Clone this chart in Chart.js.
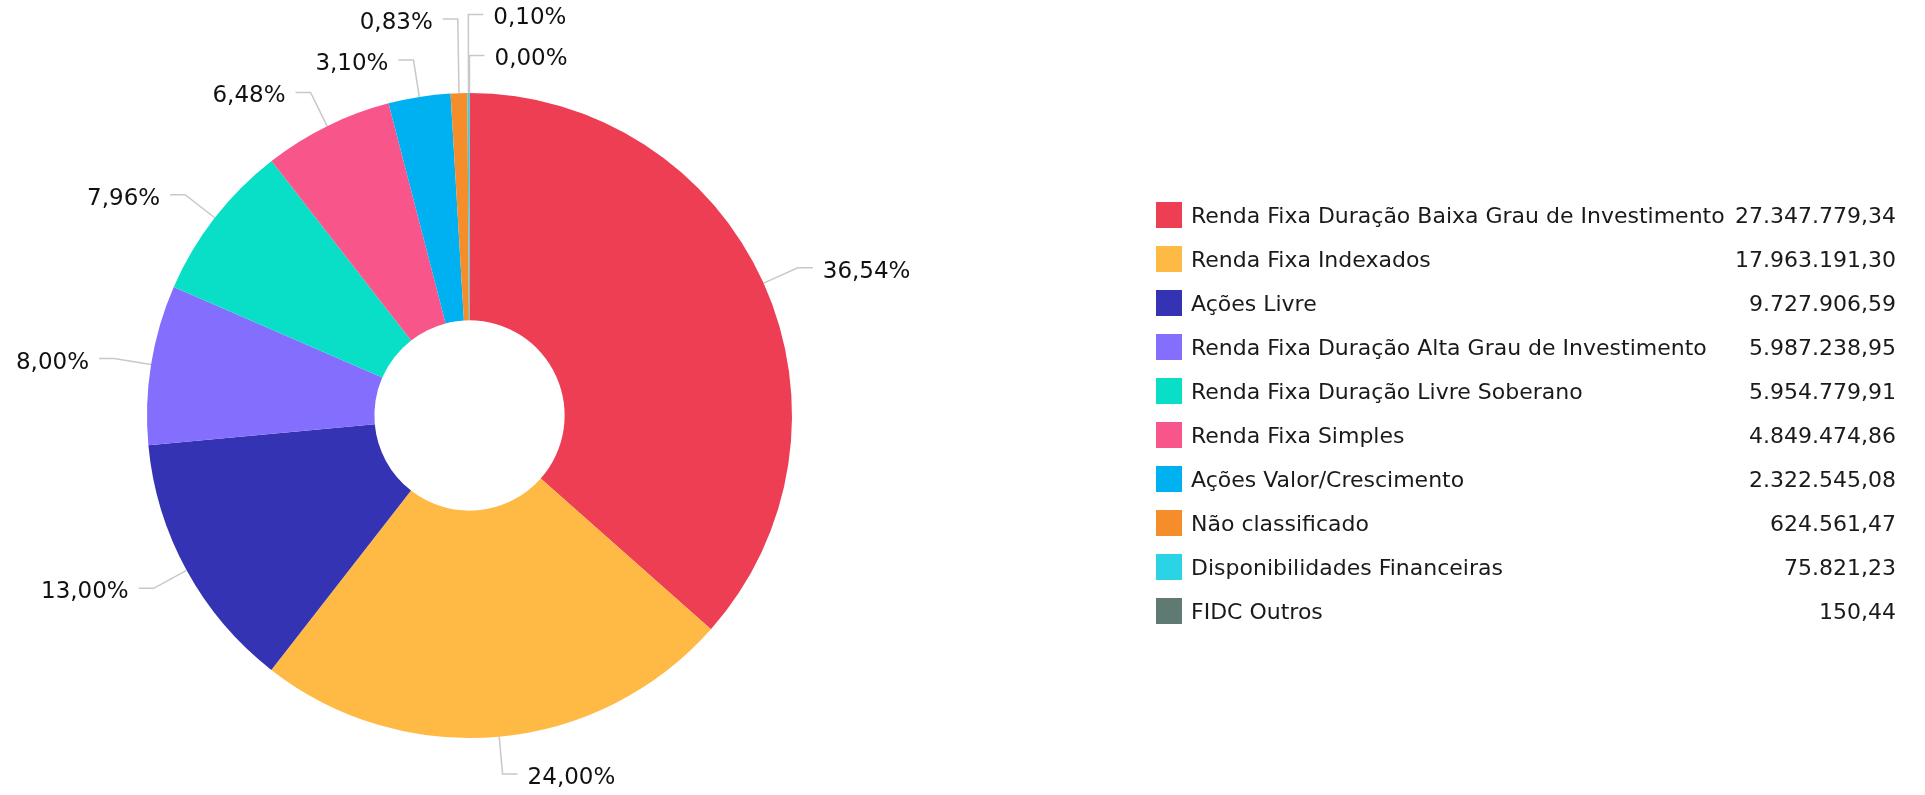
<!DOCTYPE html>
<html>
<head>
<meta charset="utf-8">
<script src="https://cdn.jsdelivr.net/npm/chart.js@4.4.1/dist/chart.umd.min.js"></script>
<style>
  html, body { margin: 0; padding: 0; background: #fff; }
  #wrap { position: relative; width: 1925px; height: 795px; overflow: hidden; }
  #pie { position: absolute; left: 0; top: 0; }
  #legend {
    position: absolute; left: 1156px; top: 202px; width: 740px;
    font-family: "DejaVu Sans", Verdana, sans-serif; font-size: 22px; color: #1a1a1a;
  }
  .row { display: flex; align-items: center; height: 26px; margin-bottom: 18px; }
  .sw { width: 26px; height: 26px; flex: none; margin-right: 9px; }
  .name { flex: 1; white-space: nowrap; }
  .val { white-space: nowrap; text-align: right; }
</style>
</head>
<body>
<div id="wrap">
  <canvas id="pie" width="1925" height="795"></canvas>
  <div id="legend"></div>
</div>
<script>
// Data
const categories = [
  'Renda Fixa Duração Baixa Grau de Investimento',
  'Renda Fixa Indexados',
  'Ações Livre',
  'Renda Fixa Duração Alta Grau de Investimento',
  'Renda Fixa Duração Livre Soberano',
  'Renda Fixa Simples',
  'Ações Valor/Crescimento',
  'Não classificado',
  'Disponibilidades Financeiras',
  'FIDC Outros'
];
const values = [
  27347779.34, 17963191.30, 9727906.59, 5987238.95, 5954779.91,
  4849474.86, 2322545.08, 624561.47, 75821.23, 150.44
];
const colors = [
  '#ee3e54', '#ffba45', '#3333b3', '#836efd', '#08dfc6',
  '#f8568b', '#00b1f2', '#f68d2b', '#2ad4e4', '#5f7a73'
];

const total = values.reduce((a, b) => a + b, 0);

// pt-BR number formatting
function fmtNum(v, dec) {
  const parts = v.toFixed(dec).split('.');
  const int = parts[0].replace(/\B(?=(\d{3})+(?!\d))/g, '.');
  return dec ? int + ',' + parts[1] : int;
}

// Legend (HTML)
const legend = document.getElementById('legend');
categories.forEach((name, i) => {
  const row = document.createElement('div');
  row.className = 'row';
  row.innerHTML = '<span class="sw" style="background:' + colors[i] + '"></span>' +
    '<span class="name">' + name + '</span>' +
    '<span class="val">' + fmtNum(values[i], 2) + '</span>';
  legend.appendChild(row);
});

// Percentage labels with crooked connectors
const LABEL_DIST = 37.5;
const CROOK = 15;
const TEXT_PAD = 10;
const GAP = 41;

const pieLabels = {
  id: 'pieLabels',
  afterDatasetsDraw(chart) {
    const ctx = chart.ctx;
    const meta = chart.getDatasetMeta(0);
    ctx.save();
    ctx.font = '23px "DejaVu Sans", Verdana, sans-serif';

    const items = meta.data.map((arc, i) => {
      const p = arc.getProps(['x', 'y', 'startAngle', 'endAngle', 'outerRadius'], true);
      const mid = (p.startAngle + p.endAngle) / 2;
      let deg = mid * 180 / Math.PI + 90;
      deg = ((deg % 360) + 360) % 360;
      if (deg > 180) deg -= 360;
      const R = p.outerRadius + LABEL_DIST;
      const text = fmtNum(values[i] / total * 100, 2) + '%';
      const w = ctx.measureText(text).width;
      const right = deg > -1;
      const cx = p.x + Math.cos(mid) * R;
      const box = right ? [cx, cx + CROOK + TEXT_PAD + w] : [cx - CROOK - TEXT_PAD - w, cx];
      return {
        i, deg, right, text, box, cx,
        ny: p.y + Math.sin(mid) * R,
        ex: p.x + Math.cos(mid) * p.outerRadius,
        ey: p.y + Math.sin(mid) * p.outerRadius
      };
    });

    // push overlapping labels upward, lowest label keeps its place
    const resolve = (list) => {
      for (let k = list.length - 1; k >= 0; k--) {
        const a = list[k];
        a.y = a.ny;
        for (let j = k + 1; j < list.length; j++) {
          const b = list[j];
          const overlap = a.box[0] < b.box[1] && b.box[0] < a.box[1];
          if (overlap && a.y > b.y - GAP) a.y = b.y - GAP;
        }
      }
    };
    resolve(items.filter(d => d.right).sort((a, b) => a.deg - b.deg));
    resolve(items.filter(d => !d.right).sort((a, b) => b.deg - a.deg));

    items.forEach(d => {
      const dir = d.right ? 1 : -1;
      ctx.strokeStyle = '#c8c8c8';
      ctx.lineWidth = 1.5;
      ctx.beginPath();
      ctx.moveTo(d.ex, d.ey);
      ctx.lineTo(d.cx, d.y);
      ctx.lineTo(d.cx + dir * CROOK, d.y);
      ctx.stroke();

      ctx.fillStyle = '#111';
      ctx.textBaseline = 'middle';
      ctx.textAlign = d.right ? 'left' : 'right';
      ctx.fillText(d.text, d.cx + dir * (CROOK + TEXT_PAD), d.y + 4);
    });
    ctx.restore();
  }
};

new Chart(document.getElementById('pie'), {
  type: 'doughnut',
  data: {
    labels: categories,
    datasets: [{
      data: values,
      backgroundColor: colors,
      borderWidth: 0,
      offset: 0,
      hoverOffset: 0,
      spacing: 0
    }]
  },
  options: {
    responsive: false,
    devicePixelRatio: 1,
    animation: false,
    cutout: '29.5%',
    layout: { padding: { left: 147, right: 1133, top: 93, bottom: 57 } },
    plugins: {
      legend: { display: false },
      tooltip: { enabled: false }
    }
  },
  plugins: [pieLabels]
});
</script>
</body>
</html>
